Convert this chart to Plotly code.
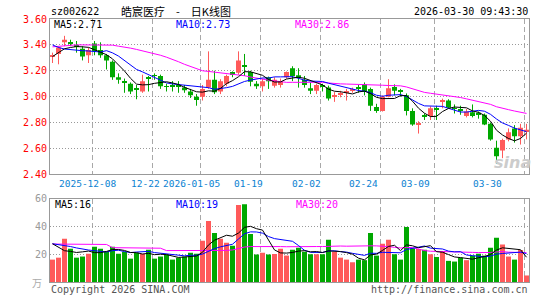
import plotly.graph_objects as go
import pandas as pd

# ---------------- data ----------------
open_ = [3.31, 3.33, 3.42, 3.42, 3.40, 3.37, 3.32, 3.41, 3.36, 3.32,
         3.27, 3.15, 3.12, 3.10, 3.06, 3.04, 3.145, 3.165, 3.16, 3.08,
         3.085, 3.09, 3.07, 3.04, 3.00, 3.00, 3.07, 3.13, 3.04, 3.10,
         3.19, 3.185, 3.24, 3.19, 3.10, 3.08, 3.15, 3.085, 3.09, 3.15,
         3.22, 3.165, 3.13, 3.065, 3.045, 3.09, 3.07, 3.005, 3.02, 3.03,
         3.045, 3.07, 3.095, 3.06, 2.92, 2.89, 3.00, 3.075, 3.045, 3.01,
         2.89, 2.785, 2.855, 2.85, 2.905, 2.96, 2.97, 2.91, 2.90, 2.85,
         2.88, 2.875, 2.86, 2.79, 2.605, 2.585, 2.67, 2.755, 2.695, 2.73]
high = [3.34, 3.39, 3.47, 3.44, 3.43, 3.39, 3.38, 3.43, 3.42, 3.33,
        3.28, 3.18, 3.14, 3.11, 3.09, 3.17, 3.16, 3.18, 3.17, 3.10,
        3.12, 3.12, 3.09, 3.06, 3.02, 3.09, 3.35, 3.20, 3.135, 3.17,
        3.195, 3.35, 3.33, 3.20, 3.12, 3.14, 3.155, 3.15, 3.14, 3.195,
        3.235, 3.22, 3.16, 3.11, 3.10, 3.10, 3.085, 3.035, 3.045, 3.06,
        3.07, 3.09, 3.11, 3.07, 2.945, 3.01, 3.135, 3.095, 3.06, 3.025,
        2.91, 2.81, 2.87, 2.925, 2.93, 2.985, 2.98, 2.94, 2.93, 2.905,
        2.94, 2.885, 2.87, 2.80, 2.66, 2.675, 2.755, 2.78, 2.79, 2.79]
low = [3.26, 3.25, 3.39, 3.39, 3.34, 3.28, 3.26, 3.32, 3.30, 3.21,
       3.13, 3.10, 3.03, 3.02, 2.98, 3.03, 3.04, 3.13, 3.06, 3.04,
       3.04, 3.03, 3.03, 2.99, 2.93, 2.97, 3.06, 3.02, 3.02, 3.08,
       3.15, 3.17, 3.16, 3.08, 3.06, 3.04, 3.06, 3.07, 3.07, 3.14,
       3.12, 3.07, 3.07, 3.02, 3.02, 3.04, 2.97, 2.96, 2.995, 2.97,
       3.03, 3.03, 3.01, 2.89, 2.875, 2.885, 2.995, 3.01, 3.00, 2.855,
       2.775, 2.715, 2.82, 2.82, 2.82, 2.91, 2.91, 2.87, 2.86, 2.84,
       2.84, 2.83, 2.78, 2.66, 2.48, 2.525, 2.655, 2.645, 2.63, 2.67]
close = [3.32, 3.38, 3.44, 3.41, 3.385, 3.31, 3.36, 3.35, 3.32, 3.28,
         3.15, 3.13, 3.11, 3.04, 3.055, 3.12, 3.14, 3.16, 3.08, 3.075,
         3.075, 3.08, 3.05, 3.01, 2.975, 3.06, 3.13, 3.035, 3.12, 3.16,
         3.175, 3.28, 3.23, 3.115, 3.08, 3.12, 3.12, 3.13, 3.12, 3.19,
         3.16, 3.15, 3.09, 3.045, 3.09, 3.08, 2.985, 3.01, 3.025, 3.035,
         3.05, 3.065, 3.04, 2.93, 2.89, 3.00, 3.065, 3.045, 3.04, 2.89,
         2.785, 2.795, 2.85, 2.91, 2.90, 2.97, 2.915, 2.905, 2.895, 2.885,
         2.85, 2.86, 2.785, 2.67, 2.54, 2.665, 2.725, 2.695, 2.76, 2.745]
volume = [16.1, 17.5, 31.1, 24.0, 17.5, 18.3, 20.4, 25.4, 24.0, 21.8,
          25.4, 20.4, 21.8, 16.8, 21.1, 20.4, 23.2, 16.8, 18.3, 19.7,
          16.1, 17.5, 18.3, 21.1, 20.4, 29.6, 43.9, 35.3, 31.1, 28.2,
          26.1, 55.3, 56.0, 34.6, 19.7, 21.1, 19.7, 20.2, 24.0, 19.0,
          23.2, 24.7, 21.8, 19.9, 19.9, 19.9, 30.4, 21.8, 17.5, 16.1,
          14.2, 16.1, 15.7, 35.3, 19.0, 27.5, 30.4, 19.9, 16.1, 39.6,
          24.2, 23.7, 23.2, 19.9, 18.0, 22.3, 15.2, 14.7, 17.5, 15.7,
          19.0, 20.4, 19.0, 24.7, 31.8, 27.0, 18.3, 16.1, 23.0, 4.7]

# moving-average values before the window is full (read off the chart,
# they depend on days left of the visible range)
ma5_head = [3.31, 3.34, 3.37, 3.38]
ma10_head = [3.40, 3.38, 3.368, 3.362, 3.358, 3.355, 3.353, 3.35, 3.345]
ma30_head = [3.385, 3.39, 3.395, 3.40, 3.40, 3.40, 3.40, 3.40, 3.40, 3.40,
             3.398, 3.39, 3.385, 3.375, 3.365, 3.355, 3.345, 3.33, 3.32, 3.305,
             3.29, 3.27, 3.25, 3.235, 3.215, 3.20, 3.195, 3.19, 3.183]
vma5_head = [27.5, 25.0, 22.5, 22.0]
vma10_head = [27.5, 27.0, 26.5, 25.5, 24.5, 23.5, 23.0, 22.5, 22.0]
vma30_head = [27.3, 27.3, 27.2, 27.2, 27.1, 27.1, 27.0, 27.0, 27.0, 27.0,
              24.7, 24.7, 24.6, 24.6, 24.5, 24.5, 24.4, 24.4, 24.3, 22.6,
              22.6, 22.5, 22.5, 22.5, 22.4, 22.4, 22.4, 22.3, 22.3]

tick_days = [7, 17, 25, 35, 45, 55, 64, 79]
tick_labels = ["2025-12-08", "12-22", "2026-01-05", "01-19", "02-02",
               "02-24", "03-09", "03-30"]
price_ticks = [2.40, 2.60, 2.80, 3.00, 3.20, 3.40, 3.60]
vol_ticks = [20, 40, 60]

stock_code = "sz002622"
chart_title = "皓宸医疗\u3000-\u3000日K线图"
timestamp = "2026-03-30 09:43:30"
ma_price_text = ["MA5:2.71", "MA10:2.73", "MA30:2.86"]
ma_vol_text = ["MA5:16", "MA10:19", "MA30:20"]

# ---------------- layout constants ----------------
W, H = 545, 300
ML, MR, MT, MB = 50, 16, 19, 14
PW, PH = W - ML - MR, H - MT - MB
RED, GREEN = "#ff5a5a", "#00a800"
MONO = "DejaVu Sans Mono"
label_pos = [5.87, 15.5, 23.1, 32.7, 42.4, 51.9, 60.5, 72.5]  # date label centres (day units)


def px_x(X):
    return (X - ML) / PW


def px_y(Y):
    return (H - MB - Y) / PH


def moving_average(values, window, head):
    s = pd.Series(values).rolling(window).mean().tolist()
    return list(head) + s[window - 1:]


n = len(close)
x = list(range(n))
colors = [RED if c >= o else GREEN for o, c in zip(open_, close)]
body_base = [min(o, c) for o, c in zip(open_, close)]
body_h = [max(abs(c - o), 0.007) for o, c in zip(open_, close)]

fig = go.Figure()

# candle wicks
for col in (RED, GREEN):
    wx, wy = [], []
    for i in range(n):
        if colors[i] == col:
            wx += [i, i, None]
            wy += [low[i], high[i], None]
    fig.add_trace(go.Scatter(x=wx, y=wy, mode="lines", line=dict(color=col, width=1),
                             xaxis="x", yaxis="y", hoverinfo="skip"))

# candle bodies
fig.add_trace(go.Bar(x=x, y=body_h, base=body_base, width=5 / 6,
                     marker=dict(color=colors, line=dict(width=0)),
                     xaxis="x", yaxis="y"))

# price moving averages
for vals, w, head, col in ((close, 30, ma30_head, "#ff00ff"),
                           (close, 10, ma10_head, "#0000ff"),
                           (close, 5, ma5_head, "#000000")):
    fig.add_trace(go.Scatter(x=x, y=moving_average(vals, w, head), mode="lines",
                             line=dict(color=col, width=1), xaxis="x", yaxis="y"))

# volume bars
fig.add_trace(go.Bar(x=x, y=volume, width=5 / 6,
                     marker=dict(color=colors, line=dict(width=0)),
                     xaxis="x2", yaxis="y2"))

for vals, w, head, col in ((volume, 30, vma30_head, "#ff00ff"),
                           (volume, 10, vma10_head, "#0000ff"),
                           (volume, 5, vma5_head, "#000000")):
    fig.add_trace(go.Scatter(x=x, y=moving_average(vals, w, head), mode="lines",
                             line=dict(color=col, width=1), xaxis="x2", yaxis="y2"))

grid_x = [d - 0.4 for d in tick_days]
xcommon = dict(range=[-0.417, 79.417], tickvals=grid_x, showticklabels=False,
               showgrid=True, gridcolor="#a8a8a8", griddash="5px,3px", gridwidth=1,
               showline=True, linecolor="#999999", linewidth=1, mirror=True,
               zeroline=False, ticks="", fixedrange=True)

fig.update_layout(
    width=W, height=H,
    margin=dict(l=ML, r=MR, t=MT, b=MB, pad=0),
    paper_bgcolor="white", plot_bgcolor="white",
    showlegend=False, hovermode=False, barmode="overlay",
    xaxis=dict(domain=[0, 1], anchor="y", **xcommon),
    xaxis2=dict(domain=[0, 1], anchor="y2", matches="x", **xcommon),
    yaxis=dict(domain=[px_y(176.7), 1], range=[2.40, 3.60], tickvals=price_ticks,
               ticktext=["%.2f" % v for v in price_ticks],
               tickfont=dict(family=MONO, size=10, color="#ff0000"),
               showgrid=True, gridcolor="#999999", griddash="1px,2px",
               showline=True, linecolor="#999999", linewidth=1, mirror=True,
               zeroline=False, ticks="", fixedrange=True),
    yaxis2=dict(domain=[0, px_y(201.3)], range=[0, 60], tickvals=vol_ticks,
                ticktext=[str(v) for v in vol_ticks],
                tickfont=dict(family=MONO, size=10, color="#999999"),
                showgrid=True, gridcolor="#999999", griddash="1px,2px",
                showline=True, linecolor="#999999", linewidth=1, mirror=True,
                zeroline=False, ticks="", fixedrange=True),
)

ann = []


def text(t, X, Y, color="#000000", size=10, family=MONO, anchor="left", **kw):
    ann.append(dict(text=t, x=px_x(X), y=px_y(Y), xref="paper", yref="paper",
                    xanchor=anchor, yanchor="middle", showarrow=False,
                    font=dict(family=family, size=size, color=color), **kw))


text(stock_code, 49, 11)
text(chart_title, 119, 10.5, family="Noto Sans CJK SC", size=11)
text(timestamp, 530, 11, anchor="right")

for t, X, col in zip(ma_price_text, (52, 174, 293), ("#000000", "#0000ff", "#ff00ff")):
    text(t, X, 24.5, color=col)
for t, X, col in zip(ma_vol_text, (53, 174, 294), ("#000000", "#0000ff", "#ff00ff")):
    text(t, X, 207, color=col)

for lab, pos in zip(tick_labels, label_pos):
    ann.append(dict(text=lab, x=pos, y=px_y(186), xref="x", yref="paper",
                    xanchor="center", yanchor="middle", showarrow=False,
                    font=dict(family=MONO, size=9.5, color="#0a82d2")))

text("万", 44, 286, color="#aaaaaa", size=10, family="Noto Sans CJK SC", anchor="right")
text("Copyright 2026 SINA.COM", 49, 293.5, color="#555555")
text("http://finance.sina.com.cn", 530, 293.5, color="#555555", anchor="right")
text("<b><i>sina</i></b>", 512, 165, color="#cccccc", size=16, family="DejaVu Sans",
     anchor="center")

fig.update_layout(annotations=ann)
fig.write_html("out.html")
